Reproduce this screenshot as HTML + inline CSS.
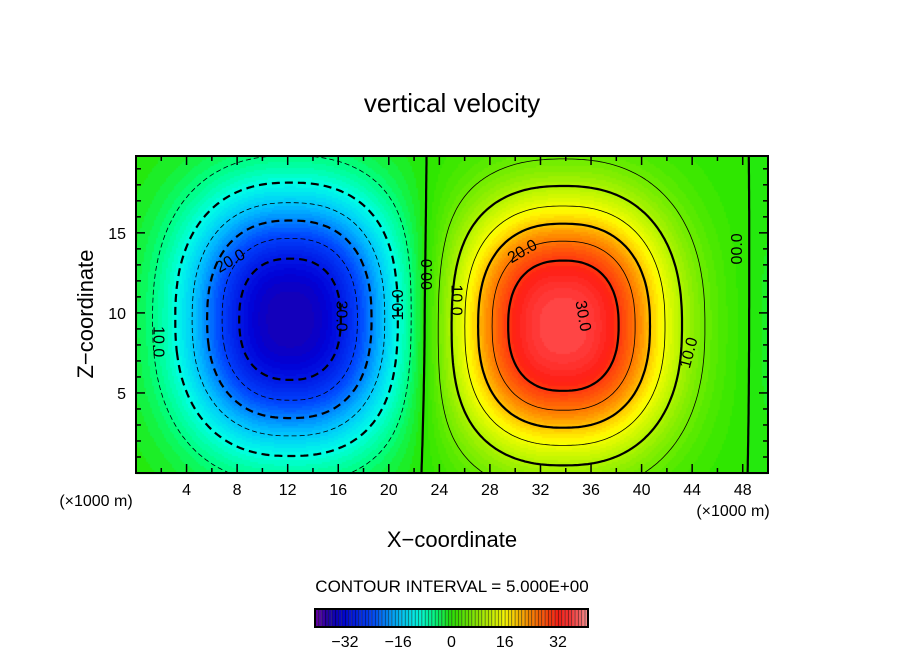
<!DOCTYPE html>
<html><head><meta charset="utf-8">
<style>
body{margin:0;background:#fff;width:904px;height:654px;overflow:hidden;font-family:"Liberation Sans",sans-serif}
#wrap{position:relative;width:904px;height:654px}
canvas{position:absolute;left:0;top:0}
svg{position:absolute;left:0;top:0}
</style></head><body>
<div id="wrap">
<canvas id="fill" width="904" height="654"></canvas>
<svg id="svg" width="904" height="654"></svg>
</div>
<script>
// Field data: blobs composing the vertical velocity field
const blobX = [12.2, 33.8, 53];
const blobZ = [9.6, 9.2, 9];
const blobAmp = [-36, 37, -3];
const blobSx = [8.2, 8.4, 4];
const blobSz = [7.7, 7.8, 8];
const contourLevels = [-30,-25,-20,-15,-10,-5,0,5,10,15,20,25,30];
const xTicks = [4,8,12,16,20,24,28,32,36,40,44,48];
const zTicks = [5,10,15];
const cbTicks = [-32,-16,0,16,32];
const contourLabels = [
 {t:"20.0",x:7.5,z:13.2,r:-30},{t:"30.0",x:16.2,z:9.8,r:90},{t:"10.0",x:20.8,z:10.5,r:-90},
 {t:"10.0",x:1.7,z:8.2,r:90},{t:"00.0",x:23.1,z:12.4,r:-90},{t:"10.0",x:25.3,z:10.8,r:90},
 {t:"20.0",x:30.6,z:13.8,r:-30},{t:"30.0",x:35.3,z:9.8,r:80},{t:"10.0",x:43.8,z:7.5,r:-75},
 {t:"00.0",x:47.6,z:14.0,r:-90}
];
const X0=0,X1=50,Z0=0,Z1=19.8;
const PL=136,PR=768,PT=156,PB=473;
function sx(x){return PL+(x-X0)/(X1-X0)*(PR-PL);}
function sz(z){return PB-(z-Z0)/(Z1-Z0)*(PB-PT);}
function field(x,z){let f=0;for(let i=0;i<blobX.length;i++){const dx=Math.abs(x-blobX[i])/blobSx[i],dz=Math.abs(z-blobZ[i])/blobSz[i];const r=Math.pow(Math.pow(dx,2.4)+Math.pow(dz,2.4),1/2.4);f+=blobAmp[i]*Math.exp(-Math.pow(r,2.4));}return f;}
const cstops=[[-41,[110,0,170]],[-37,[30,0,170]],[-33,[0,0,215]],[-24,[0,70,255]],[-16,[0,190,255]],[-10,[0,255,230]],[-5,[0,255,130]],[0,[40,230,0]],[8,[150,240,0]],[16,[255,255,0]],[24,[255,130,0]],[32,[255,30,20]],[36,[255,60,60]],[41,[255,150,150]]];
function col(v){v=Math.max(-41,Math.min(41,v));for(let i=0;i<cstops.length-1;i++){const a=cstops[i],b=cstops[i+1];if(v<=b[0]){const t=(v-a[0])/(b[0]-a[0]);return a[1].map((c,k)=>Math.round(c+(b[1][k]-c)*t));}}return cstops[cstops.length-1][1];}
const ctx=document.getElementById('fill').getContext('2d');
for(let px=PL;px<PR;px+=2){for(let py=PT;py<PB;py+=2){const x=X0+(px+1-PL)/(PR-PL)*(X1-X0),z=Z0+(PB-py-1)/(PB-PT)*(Z1-Z0);const v=Math.floor(field(x,z))+0.5;const c=col(v);ctx.fillStyle=`rgb(${c[0]},${c[1]},${c[2]})`;ctx.fillRect(px,py,2,2);}}
const CB0=315,CB1=588,cbMin=-41,cbMax=41;
function cbx(v){return CB0+(v-cbMin)/(cbMax-cbMin)*(CB1-CB0);}
for(let v=cbMin;v<cbMax;v++){const c=col(v+0.5);ctx.fillStyle=`rgb(${c[0]},${c[1]},${c[2]})`;ctx.fillRect(cbx(v),609,cbx(v+1)-cbx(v),18);ctx.fillStyle='#000';ctx.fillRect(cbx(v),609,0.6,18);}
const NS='http://www.w3.org/2000/svg';const svg=document.getElementById('svg');
function mk(t,a,p){const e=document.createElementNS(NS,t);for(const k in a)e.setAttribute(k,a[k]);(p||svg).appendChild(e);return e;}
const NX=200,NZ=80,gx=[],gz=[],G=[];
for(let i=0;i<=NX;i++)gx.push(X0+i*(X1-X0)/NX);
for(let j=0;j<=NZ;j++)gz.push(Z0+j*(Z1-Z0)/NZ);
for(let i=0;i<=NX;i++){G.push([]);for(let j=0;j<=NZ;j++)G[i].push(field(gx[i],gz[j]));}
contourLevels.forEach(L=>{
 const pos={},adj={};
 function link(a,b){(adj[a]=adj[a]||[]).push(b);(adj[b]=adj[b]||[]).push(a);}
 for(let i=0;i<NX;i++)for(let j=0;j<NZ;j++){
  const c=[[i,j],[i+1,j],[i+1,j+1],[i,j+1]];
  const keys=[];
  for(let k=0;k<4;k++){const a=c[k],b=c[(k+1)%4];const va=G[a[0]][a[1]],vb=G[b[0]][b[1]];
   if((va-L)*(vb-L)<0){const t=(L-va)/(vb-va);const key=[Math.min(a[0],b[0]),Math.min(a[1],b[1]),a[0]===b[0]?'v':'h'].join(',');
    if(!pos[key])pos[key]=[gx[a[0]]+(gx[b[0]]-gx[a[0]])*t,gz[a[1]]+(gz[b[1]]-gz[a[1]])*t];keys.push(key);}}
  for(let k=0;k+1<keys.length;k+=2)link(keys[k],keys[k+1]);
 }
 const used={};let d='';
 const starts=Object.keys(adj).sort((a,b)=>adj[a].length-adj[b].length);
 for(const s of starts){if(used[s])continue;let cur=s,prev=null;used[s]=1;
  d+=`M${sx(pos[s][0]).toFixed(1)},${sz(pos[s][1]).toFixed(1)}`;
  while(true){const nx=(adj[cur]||[]).find(n=>!used[n]);if(!nx){if(adj[cur].includes(s)&&prev!==null&&cur!==s)d+='Z';break;}used[nx]=1;d+=`L${sx(pos[nx][0]).toFixed(1)},${sz(pos[nx][1]).toFixed(1)}`;prev=cur;cur=nx;}
 }
 if(!d)return;
 const thick=(L%10===0);
 const p=mk('path',{d:d,fill:'none',stroke:'#000','stroke-width':thick?2.2:0.8});
 if(L<0)p.setAttribute('stroke-dasharray',thick?'8 5':'5 3');
 
 
});
contourLabels.forEach(l=>{const t=mk('text',{x:sx(l.x),y:sz(l.z),'font-size':16,'text-anchor':'middle','dominant-baseline':'middle',transform:`rotate(${l.r} ${sx(l.x)} ${sz(l.z)})`});t.textContent=l.t;
 
 });
const fr=mk('rect',{x:PL,y:PT,width:PR-PL,height:PB-PT,fill:'none',stroke:'#000','stroke-width':2});

for(let x=2;x<50;x+=2){const L=(x%4===0)?9:5;mk('line',{x1:sx(x),x2:sx(x),y1:PB,y2:PB-L,stroke:'#000','stroke-width':1.5});mk('line',{x1:sx(x),x2:sx(x),y1:PT,y2:PT+L,stroke:'#000','stroke-width':1.5});}
for(let z=1;z<20;z++){const L=(z%5===0)?9:5;mk('line',{x1:PL,x2:PL+L,y1:sz(z),y2:sz(z),stroke:'#000','stroke-width':1.5});mk('line',{x1:PR,x2:PR-L,y1:sz(z),y2:sz(z),stroke:'#000','stroke-width':1.5});}
xTicks.forEach(v=>{const t=mk('text',{x:sx(v),y:495,'font-size':16,'text-anchor':'middle'});t.textContent=v;
 });
zTicks.forEach(v=>{const t=mk('text',{x:126,y:sz(v)+6,'font-size':16,'text-anchor':'end'});t.textContent=v;
 });
cbTicks.forEach(v=>{const t=mk('text',{x:cbx(v),y:647,'font-size':16,'text-anchor':'middle'});t.textContent=v===0?'0':(v<0?'\u2212'+(-v):v);
 });
const cbf=mk('rect',{x:CB0,y:609,width:CB1-CB0,height:18,fill:'none',stroke:'#000','stroke-width':2});

function txt(s,a,name){const t=mk('text',a);t.textContent=s;return t;}
txt('vertical velocity',{x:452,y:112,'font-size':26,'text-anchor':'middle'},'chart-title');
txt('X\u2212coordinate',{x:452,y:547,'font-size':22,'text-anchor':'middle'},'x-axis-title');
txt('Z\u2212coordinate',{x:93,y:314,'font-size':22,'text-anchor':'middle',transform:'rotate(-90 93 314)'},'y-axis-title');
txt('(\u00d71000 m)',{x:96,y:506,'font-size':16,'text-anchor':'middle'},'x-unit-left');
txt('(\u00d71000 m)',{x:733,y:516,'font-size':16,'text-anchor':'middle'},'x-unit-right');
txt('CONTOUR INTERVAL = 5.000E+00',{x:452,y:592,'font-size':17,'text-anchor':'middle'},'contour-interval');
</script>
</body></html>
